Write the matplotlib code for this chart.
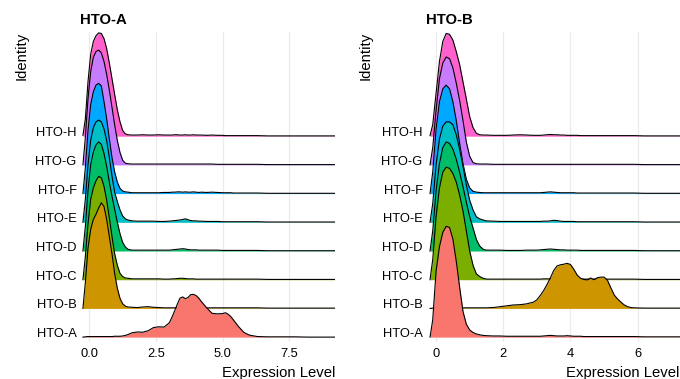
import numpy as np
import matplotlib
matplotlib.use("Agg")
import matplotlib.pyplot as plt

plt.rcParams['font.family'] = ['Liberation Sans', 'DejaVu Sans']

groups = ['HTO-A', 'HTO-B', 'HTO-C', 'HTO-D', 'HTO-E', 'HTO-F', 'HTO-G', 'HTO-H']
colors = ['#F8766D', '#CD9600', '#7CAE00', '#00BE67', '#00BFC4', '#00A9FF', '#C77CFF', '#FF61CC']

# ---- HTO-A panel: density heights (in row units) on a shared x grid ----
a_x = [-0.24, -0.15, -0.05, 0.05, 0.15, 0.25, 0.35, 0.45, 0.55, 0.65, 0.75, 0.85, 0.95, 1.05, 1.15, 1.25, 1.35, 1.45,
       1.6, 1.8, 2.0, 2.2, 2.4, 2.6, 2.8, 3.0,
       3.1, 3.2, 3.3, 3.4, 3.5, 3.6, 3.7, 3.8, 3.9, 4.0, 4.1, 4.2,
       4.4, 4.6, 4.8, 5.0, 5.1, 5.2, 5.3, 5.4, 5.6, 5.8, 6.0,
       6.3, 6.7, 7.2, 7.7, 8.2, 8.7, 9.2]

a_dens = {
    'HTO-A': [0.00, 0.01, 0.02, 0.02, 0.02, 0.02, 0.02, 0.02, 0.02, 0.02, 0.02, 0.02, 0.03, 0.03, 0.03, 0.04, 0.06, 0.09,
              0.15, 0.18, 0.17, 0.22, 0.33, 0.36, 0.35, 0.50,
              0.70, 0.92, 1.15, 1.36, 1.40, 1.34, 1.38, 1.48, 1.49, 1.45, 1.36, 1.24,
              1.02, 0.83, 0.81, 0.82, 0.85, 0.80, 0.72, 0.60, 0.36, 0.16, 0.07,
              0.02, 0.01, 0.01, 0.01, 0.00, 0.00, 0.00],
    'HTO-B': [0.00, 0.90, 2.10, 2.75, 3.10, 3.28, 3.50, 3.68, 3.55, 3.10, 2.50, 1.90, 1.21, 0.70, 0.35, 0.16, 0.08, 0.05,
              0.04, 0.03, 0.05, 0.06, 0.04, 0.03, 0.02, 0.02,
              0.02, 0.02, 0.02, 0.02, 0.02, 0.02, 0.02, 0.02, 0.02, 0.02, 0.02, 0.02,
              0.02, 0.02, 0.02, 0.02, 0.02, 0.02, 0.02, 0.02, 0.02, 0.02, 0.02,
              0.02, 0.01, 0.01, 0.01, 0.01, 0.01, 0.01],
    'HTO-C': [0.00, 0.80, 1.95, 2.80, 3.20, 3.45, 3.60, 3.55, 3.25, 2.77, 2.15, 1.50, 0.90, 0.50, 0.22, 0.11, 0.06, 0.05,
              0.03, 0.03, 0.03, 0.03, 0.03, 0.03, 0.02, 0.02,
              0.03, 0.03, 0.04, 0.05, 0.05, 0.04, 0.03, 0.03, 0.03, 0.02, 0.02, 0.02,
              0.02, 0.02, 0.02, 0.02, 0.02, 0.02, 0.02, 0.02, 0.02, 0.02, 0.02,
              0.02, 0.01, 0.01, 0.01, 0.01, 0.01, 0.01],
    'HTO-D': [0.00, 0.85, 2.10, 3.00, 3.45, 3.70, 3.80, 3.72, 3.40, 2.95, 2.40, 1.90, 1.45, 1.00, 0.60, 0.30, 0.14, 0.06,
              0.03, 0.03, 0.03, 0.03, 0.03, 0.03, 0.03, 0.03,
              0.04, 0.05, 0.06, 0.07, 0.08, 0.07, 0.05, 0.04, 0.04, 0.04, 0.03, 0.03,
              0.03, 0.03, 0.03, 0.02, 0.02, 0.02, 0.02, 0.02, 0.02, 0.02, 0.02,
              0.02, 0.01, 0.01, 0.01, 0.01, 0.01, 0.01],
    'HTO-E': [0.00, 0.80, 2.00, 2.85, 3.30, 3.50, 3.56, 3.50, 3.25, 2.85, 2.25, 1.60, 1.05, 0.72, 0.43, 0.22, 0.12, 0.08,
              0.05, 0.04, 0.04, 0.04, 0.04, 0.03, 0.03, 0.04,
              0.05, 0.06, 0.07, 0.08, 0.10, 0.12, 0.09, 0.06, 0.05, 0.05, 0.04, 0.04,
              0.03, 0.03, 0.03, 0.02, 0.02, 0.02, 0.02, 0.02, 0.02, 0.02, 0.02,
              0.02, 0.01, 0.01, 0.01, 0.01, 0.01, 0.01],
    'HTO-F': [0.00, 0.90, 2.20, 3.10, 3.55, 3.78, 3.84, 3.75, 3.20, 2.60, 1.90, 1.25, 0.75, 0.40, 0.18, 0.09, 0.06, 0.05,
              0.03, 0.03, 0.03, 0.03, 0.03, 0.03, 0.04, 0.04,
              0.05, 0.05, 0.06, 0.06, 0.05, 0.06, 0.05, 0.05, 0.06, 0.05, 0.04, 0.05,
              0.04, 0.05, 0.04, 0.03, 0.03, 0.03, 0.03, 0.02, 0.02, 0.02, 0.02,
              0.02, 0.01, 0.01, 0.01, 0.01, 0.01, 0.01],
    'HTO-G': [0.00, 0.95, 2.30, 3.25, 3.75, 3.95, 4.00, 3.90, 3.60, 3.15, 2.60, 2.00, 1.39, 0.85, 0.43, 0.16, 0.06, 0.04,
              0.03, 0.03, 0.03, 0.03, 0.03, 0.03, 0.03, 0.03,
              0.03, 0.03, 0.03, 0.03, 0.03, 0.03, 0.03, 0.03, 0.03, 0.03, 0.03, 0.03,
              0.03, 0.03, 0.02, 0.02, 0.02, 0.02, 0.02, 0.02, 0.02, 0.02, 0.02,
              0.02, 0.01, 0.01, 0.01, 0.01, 0.01, 0.01],
    'HTO-H': [0.03, 0.60, 1.90, 2.85, 3.30, 3.50, 3.60, 3.58, 3.40, 3.05, 2.55, 2.00, 1.45, 0.92, 0.50, 0.20, 0.08, 0.05,
              0.04, 0.04, 0.05, 0.04, 0.04, 0.05, 0.04, 0.04,
              0.04, 0.05, 0.05, 0.04, 0.04, 0.05, 0.04, 0.04, 0.05, 0.04, 0.04, 0.04,
              0.03, 0.04, 0.03, 0.03, 0.02, 0.02, 0.02, 0.02, 0.02, 0.02, 0.02,
              0.02, 0.01, 0.01, 0.01, 0.01, 0.01, 0.01],
}
a_ticks = [0.0, 2.5, 5.0, 7.5]
a_ticklabels = ['0.0', '2.5', '5.0', '7.5']

# ---- HTO-B panel ----
b_x = [-0.18, -0.1, 0.0, 0.1, 0.2, 0.3, 0.4, 0.5, 0.6, 0.7, 0.8, 0.9, 1.0, 1.1, 1.2, 1.3, 1.4, 1.5,
       1.7, 1.9, 2.1, 2.3, 2.5, 2.7, 2.9,
       3.0, 3.1, 3.2, 3.3, 3.4, 3.5, 3.6, 3.7, 3.8, 3.9,
       4.0, 4.1, 4.2, 4.3, 4.4, 4.5, 4.6, 4.7, 4.8, 4.9,
       5.0, 5.1, 5.2, 5.3, 5.4, 5.5, 5.6, 5.7, 5.8, 5.9,
       6.2, 6.6, 7.0, 7.5]

b_dens = {
    'HTO-A': [0.00, 0.60, 2.30, 3.15, 3.65, 3.86, 3.82, 3.42, 2.65, 1.75, 0.90, 0.45, 0.25, 0.16, 0.11, 0.08, 0.06, 0.05,
              0.04, 0.04, 0.03, 0.03, 0.03, 0.03, 0.03,
              0.03, 0.03, 0.04, 0.05, 0.06, 0.05, 0.04, 0.04, 0.04, 0.05,
              0.04, 0.03, 0.03, 0.03, 0.02, 0.02, 0.02, 0.02, 0.02, 0.02,
              0.02, 0.02, 0.02, 0.02, 0.02, 0.02, 0.02, 0.02, 0.02, 0.02,
              0.01, 0.01, 0.01, 0.01],
    'HTO-B': [0.00, 0.01, 0.02, 0.02, 0.02, 0.02, 0.02, 0.02, 0.02, 0.02, 0.02, 0.02, 0.02, 0.02, 0.02, 0.02, 0.02, 0.02,
              0.03, 0.06, 0.09, 0.12, 0.13, 0.16, 0.22,
              0.30, 0.45, 0.62, 0.83, 1.06, 1.32, 1.48, 1.52, 1.54, 1.57,
              1.53, 1.36, 1.16, 1.05, 1.01, 0.99, 1.06, 1.00, 1.07, 1.09,
              1.09, 0.98, 0.72, 0.47, 0.33, 0.22, 0.12, 0.06, 0.03, 0.02,
              0.01, 0.01, 0.01, 0.01],
    'HTO-C': [0.00, 0.70, 2.20, 3.20, 3.75, 3.92, 3.88, 3.70, 3.40, 2.95, 2.40, 1.70, 1.00, 0.50, 0.20, 0.11, 0.05, 0.02,
              0.02, 0.02, 0.02, 0.02, 0.02, 0.02, 0.02,
              0.02, 0.02, 0.03, 0.03, 0.03, 0.03, 0.02, 0.02, 0.02, 0.02,
              0.02, 0.02, 0.02, 0.02, 0.02, 0.02, 0.02, 0.02, 0.02, 0.02,
              0.02, 0.02, 0.02, 0.02, 0.02, 0.02, 0.02, 0.02, 0.02, 0.02,
              0.01, 0.01, 0.01, 0.01],
    'HTO-D': [0.00, 0.70, 2.10, 3.05, 3.60, 3.80, 3.75, 3.55, 3.20, 2.75, 2.25, 1.70, 1.20, 0.80, 0.40, 0.17, 0.06, 0.03,
              0.03, 0.03, 0.02, 0.02, 0.02, 0.03, 0.03,
              0.03, 0.04, 0.05, 0.06, 0.07, 0.06, 0.05, 0.04, 0.04, 0.03,
              0.03, 0.03, 0.03, 0.02, 0.02, 0.02, 0.02, 0.02, 0.02, 0.02,
              0.02, 0.02, 0.02, 0.02, 0.02, 0.02, 0.02, 0.02, 0.02, 0.02,
              0.01, 0.01, 0.01, 0.01],
    'HTO-E': [0.00, 0.65, 2.00, 2.90, 3.35, 3.50, 3.50, 3.40, 3.05, 2.55, 1.95, 1.30, 0.77, 0.43, 0.19, 0.12, 0.08, 0.05,
              0.04, 0.03, 0.03, 0.03, 0.03, 0.03, 0.03,
              0.03, 0.03, 0.04, 0.04, 0.05, 0.07, 0.06, 0.04, 0.03, 0.03,
              0.03, 0.03, 0.02, 0.02, 0.02, 0.02, 0.02, 0.02, 0.02, 0.02,
              0.02, 0.02, 0.02, 0.02, 0.02, 0.02, 0.02, 0.02, 0.02, 0.02,
              0.01, 0.01, 0.01, 0.01],
    'HTO-F': [0.00, 0.75, 2.25, 3.20, 3.65, 3.78, 3.65, 3.20, 2.55, 1.75, 1.05, 0.50, 0.20, 0.08, 0.05, 0.04, 0.03, 0.03,
              0.03, 0.03, 0.03, 0.03, 0.03, 0.03, 0.03,
              0.03, 0.03, 0.04, 0.05, 0.06, 0.05, 0.04, 0.03, 0.03, 0.03,
              0.03, 0.03, 0.02, 0.02, 0.02, 0.02, 0.02, 0.02, 0.02, 0.02,
              0.02, 0.02, 0.02, 0.02, 0.02, 0.02, 0.02, 0.02, 0.02, 0.02,
              0.01, 0.01, 0.01, 0.01],
    'HTO-G': [0.00, 0.60, 1.90, 3.00, 3.55, 3.76, 3.70, 3.38, 2.85, 2.25, 1.55, 0.80, 0.30, 0.08, 0.04, 0.03, 0.03, 0.03,
              0.02, 0.02, 0.02, 0.02, 0.02, 0.02, 0.02,
              0.02, 0.02, 0.02, 0.02, 0.02, 0.02, 0.02, 0.02, 0.02, 0.02,
              0.02, 0.02, 0.02, 0.02, 0.02, 0.02, 0.02, 0.02, 0.02, 0.02,
              0.02, 0.02, 0.02, 0.02, 0.02, 0.02, 0.02, 0.02, 0.02, 0.02,
              0.01, 0.01, 0.01, 0.01],
    'HTO-H': [0.02, 0.40, 1.50, 2.60, 3.30, 3.58, 3.55, 3.35, 2.95, 2.50, 1.90, 1.30, 0.68, 0.30, 0.10, 0.05, 0.04, 0.04,
              0.03, 0.03, 0.03, 0.04, 0.05, 0.04, 0.03,
              0.03, 0.03, 0.04, 0.05, 0.06, 0.05, 0.05, 0.04, 0.04, 0.03,
              0.03, 0.03, 0.03, 0.02, 0.02, 0.02, 0.02, 0.02, 0.02, 0.02,
              0.02, 0.02, 0.02, 0.02, 0.02, 0.02, 0.02, 0.02, 0.02, 0.02,
              0.01, 0.01, 0.01, 0.01],
}
b_ticks = [0, 2, 4, 6]
b_ticklabels = ['0', '2', '4', '6']

W, H = 680, 379
fig = plt.figure(figsize=(W / 100, H / 100), dpi=100)


def ridge_panel(rect, xs, dens, xlim, ticks, ticklabels, title):
    ax = fig.add_axes(rect)
    x = np.array(xs)
    # top row first so that lower ridges sit in front
    for i in range(len(groups) - 1, -1, -1):
        h = np.array(dens[groups[i]])
        z = 2 + (len(groups) - i) * 2
        ax.fill_between(x, i, i + h, color=colors[i], lw=0, zorder=z)
        ax.plot(x, i + h, color='black', lw=0.8, zorder=z + 1, solid_joinstyle='round')

    ax.set_xlim(*xlim)
    ax.set_ylim(-0.17, 10.63)
    ax.set_xticks(ticks)
    ax.set_xticklabels(ticklabels)
    ax.set_yticks(range(len(groups)))
    ax.set_yticklabels(groups)
    for lab in ax.get_yticklabels():
        lab.set_va('baseline')
    ax.tick_params(axis='both', length=0, labelsize=9.3, colors='black')
    ax.tick_params(axis='x', pad=4)
    ax.tick_params(axis='y', pad=2.5)
    for s in ax.spines.values():
        s.set_visible(False)
    ax.grid(axis='x', color='#EBEBEB', lw=0.9, zorder=0)
    ax.grid(axis='y', visible=False)
    ax.set_axisbelow(True)

    ax.set_title(title, loc='left', fontsize=10.7, fontweight='bold', pad=6)
    ax.set_xlabel('Expression Level', loc='right', fontsize=10.7)
    ax.xaxis.set_label_coords(1.0, -0.076)
    ax.set_ylabel('Identity', loc='top', fontsize=10.7)
    return ax


# left panel: 80..335 px wide, 32..342 px tall
ax1 = ridge_panel([80 / W, (H - 342) / H, 255 / W, 310 / H], a_x, a_dens,
                  (-0.35, 9.21), a_ticks, a_ticklabels, 'HTO-A')
ax1.yaxis.set_label_coords(-0.20, 1.0)

ax2 = ridge_panel([426 / W, (H - 342) / H, 253.7 / W, 310 / H], b_x, b_dens,
                  (-0.3, 7.25), b_ticks, b_ticklabels, 'HTO-B')
ax2.yaxis.set_label_coords(-0.21, 1.0)

fig.savefig('out.png', dpi=100, facecolor='white')
